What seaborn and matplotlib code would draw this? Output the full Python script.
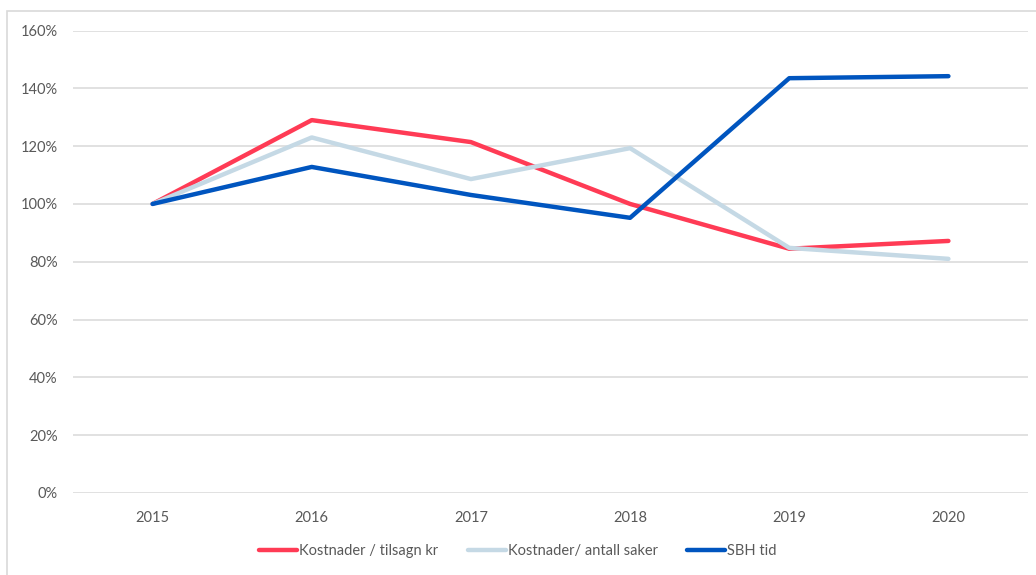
import numpy as np
import pandas as pd
import seaborn as sns
import matplotlib.pyplot as plt
from matplotlib.patches import Rectangle
from matplotlib.lines import Line2D
from matplotlib.ticker import PercentFormatter

# Data lest av figuren (prosent, 2015 = 100)
years = ["2015", "2016", "2017", "2018", "2019", "2020"]
kost_tilsagn = [100, 129.0, 121.4, 100.0, 84.5, 87.2]
kost_saker = [100, 123.0, 108.6, 119.3, 84.8, 81.0]
sbh_tid = [100, 112.8, 103.1, 95.2, 143.5, 144.2]

series_names = ["Kostnader / tilsagn kr", "Kostnader/ antall saker", "SBH tid"]
series_colors = ["#FF3B55", "#C5D9E5", "#0055BF"]

sns.set_theme(style="white")
plt.rcParams['font.family'] = ['Lato', 'DejaVu Sans']

fig = plt.figure(figsize=(10.36, 5.75), dpi=100)
W, H = 1036, 575
ax = fig.add_axes([73 / W, 1 - 493 / H, (1028 - 73) / W, (493 - 30.5) / H])

x = np.arange(len(years))
df = pd.DataFrame({
    "x": np.tile(x, 3),
    "verdi": kost_tilsagn + kost_saker + sbh_tid,
    "serie": np.repeat(series_names, len(years)),
})
sns.lineplot(data=df, x="x", y="verdi", hue="serie", hue_order=series_names,
             palette=series_colors, linewidth=3.2, ax=ax, legend=False,
             solid_capstyle="round", zorder=3)

ax.set_xlim(-0.5, len(years) - 0.5)
ax.set_ylim(0, 160)
ax.set_yticks(np.arange(0, 161, 20))
ax.yaxis.set_major_formatter(PercentFormatter(decimals=0))
ax.set_xticks(x)
ax.set_xticklabels(years)
ax.set_xlabel("")
ax.set_ylabel("")
ax.grid(axis="y", color="#D9D9D9", linewidth=1.1, zorder=0)
ax.grid(axis="x", visible=False)
for s in ax.spines.values():
    s.set_visible(False)
ax.tick_params(axis="both", length=0, labelsize=10.5, labelcolor="#595959")
ax.tick_params(axis="x", pad=13)
ax.tick_params(axis="y", pad=11)

# Legende nederst
handles = [Line2D([], [], color=c, linewidth=3.2, solid_capstyle="round") for c in series_colors]
fig.legend(handles, series_names, loc="center", bbox_to_anchor=(0.5, 1 - 551 / H),
           ncol=3, frameon=False, handlelength=2.6, handletextpad=0.15,
           columnspacing=2.0, prop={"size": 10.5}, labelcolor="#595959")

# Ramme rundt diagrammet
fig.patches.append(Rectangle((7 / W, -0.1), 1.2, 1 - 11 / H + 0.1,
                             transform=fig.transFigure, fill=False,
                             edgecolor="#D9D9D9", linewidth=1.2, clip_on=False))

fig.savefig("out.png", dpi=100)
